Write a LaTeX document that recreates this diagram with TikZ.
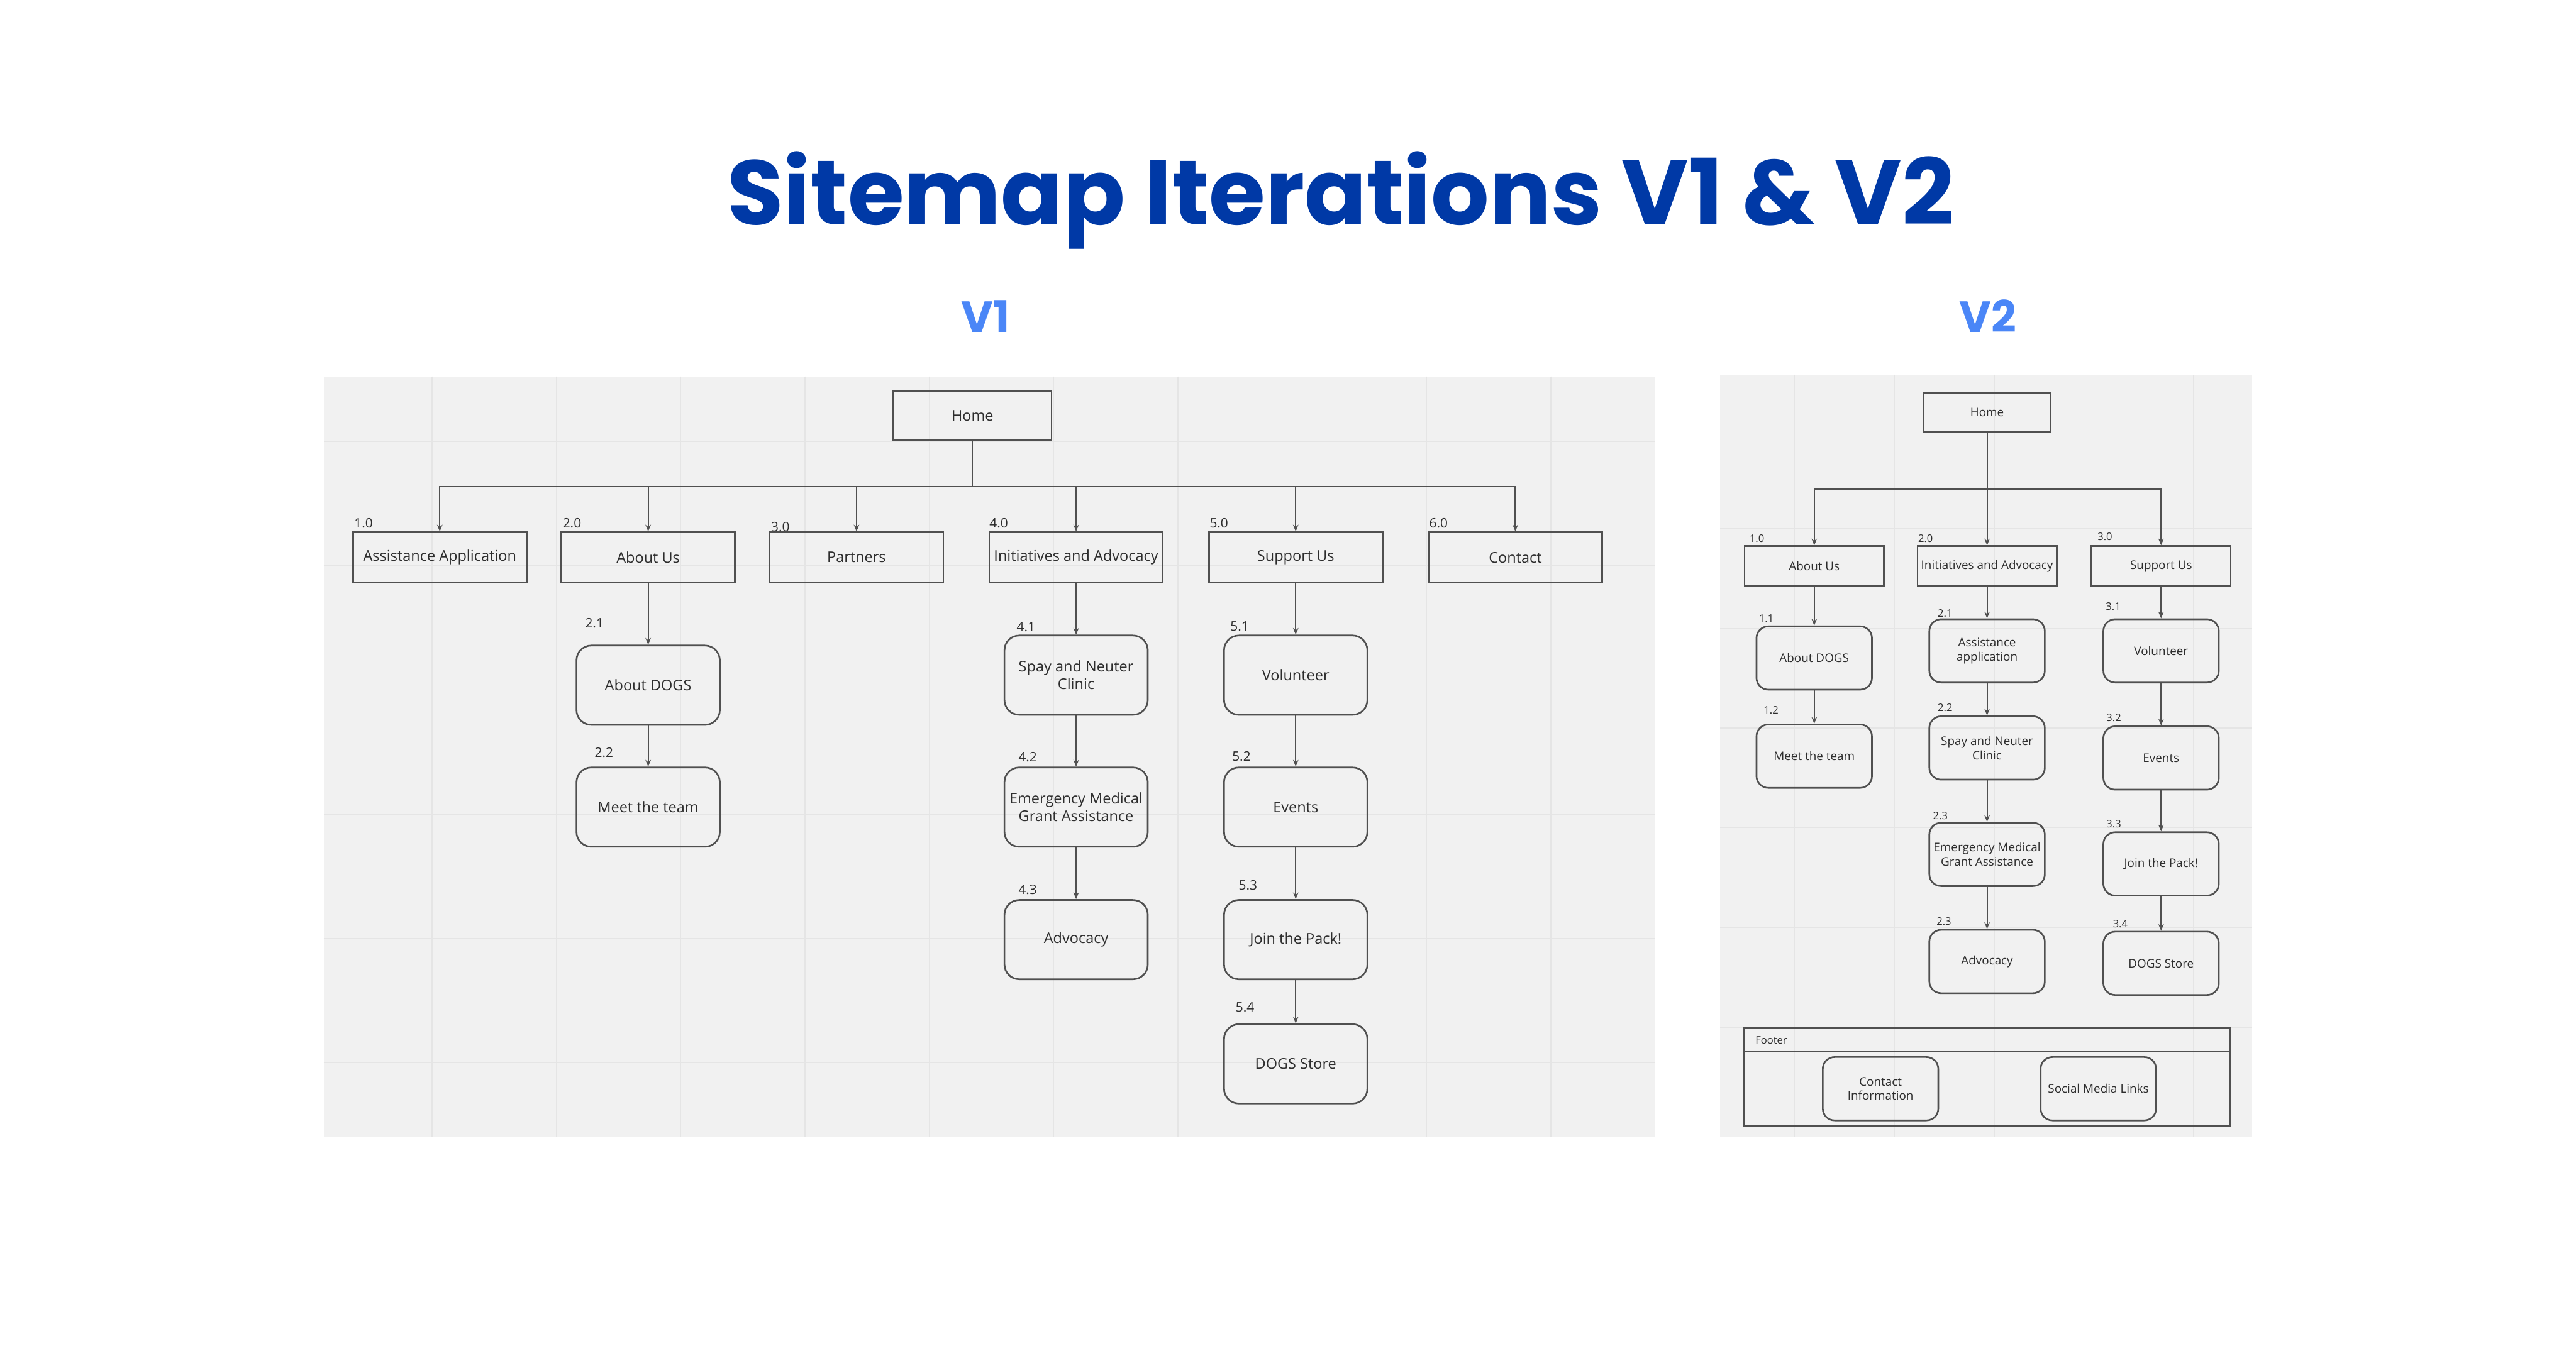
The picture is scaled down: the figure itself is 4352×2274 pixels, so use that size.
\documentclass[tikz,border=0pt]{standalone}
\usepackage{fontspec}
\setmainfont{Open Sans}
\newfontfamily\titlefont{Poppins}
\usepackage{tikz}
\usetikzlibrary{
  arrows.meta,
  positioning
}
\definecolor{titleblue}{RGB}{0,57,166}
\definecolor{verblue}{RGB}{74,134,247}
\definecolor{panelgray}{RGB}{241,241,241}
\definecolor{gridgray}{RGB}{229,229,229}
\definecolor{inkgray}{RGB}{80,80,80}
\definecolor{textgray}{RGB}{45,45,45}

\tikzset{
  topbox/.style={draw=inkgray, line width=0.8pt, inner sep=0pt,
    minimum width=2.93cm, minimum height=0.85cm, text=textgray,
    font=\fontsize{7.1}{8.6}\selectfont},
  subbox/.style={topbox, rounded corners=0.25cm, align=center,
    minimum width=2.42cm, minimum height=1.34cm},
  numlabel/.style={anchor=west, inner sep=0pt, text=textgray,
    font=\fontsize{6.3}{7}\selectfont},
  smalltop/.style={topbox, minimum width=2.35cm, minimum height=0.68cm,
    font=\fontsize{5.7}{6.9}\selectfont},
  smallsub/.style={smalltop, rounded corners=0.2cm, align=center,
    minimum width=1.95cm, minimum height=1.07cm},
  smallnum/.style={numlabel, font=\fontsize{5}{6}\selectfont},
  bus/.style={draw=inkgray, line width=0.6pt},
  link/.style={bus, -{Stealth[length=3.2pt,width=2.6pt]}}
}

\begin{document}
\begin{tikzpicture}[x=0.01cm, y=-0.01cm]
  \useasboundingbox[fill=white] (0,0) rectangle (4352,2274);

  % Title and version headings
  \node[font=\titlefont\bfseries\fontsize{44}{50}\selectfont, text=titleblue,
    anchor=base] (title) at (2265,380) {Sitemap Iterations V1 \& V2};
  \node[font=\titlefont\bfseries\fontsize{21}{24}\selectfont, text=verblue,
    anchor=base] (headA) at (1665,561) {V1};
  \node[font=\titlefont\bfseries\fontsize{21}{24}\selectfont, text=verblue,
    anchor=base] (headB) at (3358,561) {V2};

  % Panels with grid
  \fill[panelgray] (547,636) rectangle (2795,1921);
  \fill[panelgray] (2906,633) rectangle (3805,1921);
  \foreach \k in {0,...,9}{
    \draw[gridgray, line width=0.4pt] (730+210*\k,636) -- (730+210*\k,1921);
  }
  \foreach \k in {0,...,5}{
    \draw[gridgray, line width=0.4pt] (547,746+210*\k) -- (2795,746+210*\k);
  }
  \foreach \k in {0,...,4}{
    \draw[gridgray, line width=0.4pt] (3032+168.5*\k,633) -- (3032+168.5*\k,1921);
  }
  \foreach \k in {0,...,6}{
    \draw[gridgray, line width=0.4pt] (2906,725+168.5*\k) -- (3805,725+168.5*\k);
  }

  % ---- V1 ----
  \node[topbox, minimum width=2.67cm, minimum height=0.84cm] (homeA) at (1643,702) {Home};
  \coordinate (busA) at (1643,822);

  \node[topbox] (assistA)   at (743,942)  {Assistance Application};
  \node[topbox] (aboutA)    at (1095,942) {About Us};
  \node[topbox] (partnerA)  at (1447,942) {Partners};
  \node[topbox] (initA)     at (1818,942) {Initiatives and Advocacy};
  \node[topbox] (supportA)  at (2189,942) {Support Us};
  \node[topbox] (contactA)  at (2560,942) {Contact};

  \node[subbox] (dogsA)     at (1095,1158) {About DOGS};
  \node[subbox] (teamA)     at (1095,1364) {Meet the team};

  \node[subbox] (spayA)     at (1818,1141) {Spay and Neuter\\Clinic};
  \node[subbox] (grantA)    at (1818,1364) {Emergency Medical\\Grant Assistance};
  \node[subbox] (advocA)    at (1818,1588) {Advocacy};

  \node[subbox] (volA)      at (2189,1141) {Volunteer};
  \node[subbox] (eventsA)   at (2189,1364) {Events};
  \node[subbox] (packA)     at (2189,1588) {Join the Pack!};
  \node[subbox] (storeA)    at (2189,1798) {DOGS Store};

  % V1 numbers
  \node[numlabel] (nA10) at (598,884)   {1.0};
  \node[numlabel] (nA20) at (950,884)   {2.0};
  \node[numlabel] (nA30) at (1302,890)  {3.0};
  \node[numlabel] (nA40) at (1671,884)  {4.0};
  \node[numlabel] (nA50) at (2043,884)  {5.0};
  \node[numlabel] (nA60) at (2414,884)  {6.0};
  \node[numlabel] (nA21) at (988,1053)  {2.1};
  \node[numlabel] (nA22) at (1004,1272) {2.2};
  \node[numlabel] (nA41) at (1717,1059) {4.1};
  \node[numlabel] (nA42) at (1720,1279) {4.2};
  \node[numlabel] (nA43) at (1720,1503) {4.3};
  \node[numlabel] (nA51) at (2078,1058) {5.1};
  \node[numlabel] (nA52) at (2081,1278) {5.2};
  \node[numlabel] (nA53) at (2092,1496) {5.3};
  \node[numlabel] (nA54) at (2087,1702) {5.4};

  % V1 connectors
  \draw[bus] (homeA.south) -- (busA);
  \foreach \n in {assistA,aboutA,partnerA,initA,supportA,contactA}{
    \draw[link] (busA) -| (\n.north);
  }
  \draw[link] (aboutA.south) -- (dogsA.north);
  \draw[link] (dogsA.south) -- (teamA.north);
  \draw[link] (initA.south) -- (spayA.north);
  \draw[link] (spayA.south) -- (grantA.north);
  \draw[link] (grantA.south) -- (advocA.north);
  \draw[link] (supportA.south) -- (volA.north);
  \draw[link] (volA.south) -- (eventsA.north);
  \draw[link] (eventsA.south) -- (packA.north);
  \draw[link] (packA.south) -- (storeA.north);

  % ---- V2 ----
  \node[smalltop, minimum width=2.15cm, minimum height=0.67cm] (homeB) at (3357,697) {Home};
  \coordinate (busB) at (3357,827);

  \node[smalltop] (aboutB)   at (3065,957) {About Us};
  \node[smalltop] (initB)    at (3357,957) {Initiatives and Advocacy};
  \node[smalltop] (supportB) at (3651,957) {Support Us};

  \node[smallsub] (dogsB)    at (3065,1112) {About DOGS};
  \node[smallsub] (teamB)    at (3065,1278) {Meet the team};

  \node[smallsub] (assistB)  at (3357,1100) {Assistance\\application};
  \node[smallsub] (spayB)    at (3357,1264) {Spay and Neuter\\Clinic};
  \node[smallsub] (grantB)   at (3357,1444) {Emergency Medical\\Grant Assistance};
  \node[smallsub] (advocB)   at (3357,1625) {Advocacy};

  \node[smallsub] (volB)     at (3651,1100) {Volunteer};
  \node[smallsub] (eventsB)  at (3651,1281) {Events};
  \node[smallsub] (packB)    at (3651,1460) {Join the Pack!};
  \node[smallsub] (storeB)   at (3651,1628) {DOGS Store};

  % V2 numbers
  \node[smallnum] (nB10) at (2955,910)  {1.0};
  \node[smallnum] (nB20) at (3240,910)  {2.0};
  \node[smallnum] (nB30) at (3543,907)  {3.0};
  \node[smallnum] (nB11) at (2971,1045) {1.1};
  \node[smallnum] (nB12) at (2979,1200) {1.2};
  \node[smallnum] (nB21) at (3273,1037) {2.1};
  \node[smallnum] (nB22) at (3273,1196) {2.2};
  \node[smallnum] (nB23) at (3265,1379) {2.3};
  \node[smallnum] (nB24) at (3271,1557) {2.3};
  \node[smallnum] (nB31) at (3557,1025) {3.1};
  \node[smallnum] (nB32) at (3558,1213) {3.2};
  \node[smallnum] (nB33) at (3558,1393) {3.3};
  \node[smallnum] (nB34) at (3569,1561) {3.4};

  % V2 connectors
  \draw[bus] (homeB.south) -- (busB);
  \foreach \n in {aboutB,initB,supportB}{
    \draw[link] (busB) -| (\n.north);
  }
  \draw[link] (aboutB.south) -- (dogsB.north);
  \draw[link] (dogsB.south) -- (teamB.north);
  \draw[link] (initB.south) -- (assistB.north);
  \draw[link] (assistB.south) -- (spayB.north);
  \draw[link] (spayB.south) -- (grantB.north);
  \draw[link] (grantB.south) -- (advocB.north);
  \draw[link] (supportB.south) -- (volB.north);
  \draw[link] (volB.south) -- (eventsB.north);
  \draw[link] (eventsB.south) -- (packB.north);
  \draw[link] (packB.south) -- (storeB.north);

  % Footer
  \draw[draw=inkgray, line width=0.8pt] (2947,1738) rectangle (3768,1903);
  \draw[draw=inkgray, line width=0.8pt] (2947,1777) -- (3768,1777);
  \node[smallnum] (footer) at (2965,1758) {Footer};
  \node[smallsub] (infoB)   at (3177,1840) {Contact\\Information};
  \node[smallsub] (socialB) at (3545,1840) {Social Media Links};
\end{tikzpicture}
\end{document}
